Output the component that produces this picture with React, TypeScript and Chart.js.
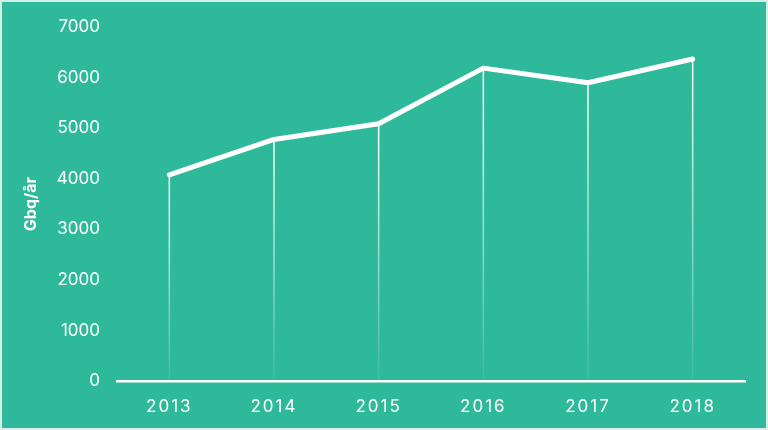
import React, { useEffect, useRef } from "react";
import { Chart, registerables } from "chart.js";

Chart.register(...registerables);

const years = ["2013", "2014", "2015", "2016", "2017", "2018"];
const values = [4080, 4780, 5090, 6190, 5900, 6370];
const yTicks = [0, 1000, 2000, 3000, 4000, 5000, 6000, 7000];
const yTitle = "Gbq/år";

const BG = "#2fb99b";
const FONT = "Inter, 'DejaVu Sans', sans-serif";

const bgPlugin = {
  id: "bgPlugin",
  beforeDraw(chart: any) {
    const { ctx, width, height } = chart;
    ctx.save();
    ctx.fillStyle = BG;
    ctx.fillRect(0, 0, width, height);
    ctx.strokeStyle = "#d6f0e9";
    ctx.lineWidth = 2;
    ctx.strokeRect(1, 1, width - 2, height - 2);
    ctx.restore();
    const xs = chart.scales.x;
    if (xs && !xs.__spaced) {
      const orig = xs.drawLabels;
      xs.drawLabels = function (area: any) {
        const c = this.ctx;
        c.save();
        try {
          (c as any).letterSpacing = "2px";
        } catch (e) {}
        orig.call(this, area);
        c.restore();
      };
      xs.__spaced = true;
    }
  },
};

const dropLines = {
  id: "dropLines",
  beforeDatasetsDraw(chart: any) {
    const { ctx } = chart;
    const yScale = chart.scales.y;
    const meta = chart.getDatasetMeta(0);
    const bottom = yScale.getPixelForValue(0);
    ctx.save();
    meta.data.forEach((pt: any) => {
      const grad = ctx.createLinearGradient(0, pt.y, 0, bottom);
      grad.addColorStop(0, "rgba(255,255,255,1)");
      grad.addColorStop(1, "rgba(255,255,255,0.05)");
      ctx.strokeStyle = grad;
      ctx.lineWidth = 1.5;
      ctx.beginPath();
      ctx.moveTo(pt.x, pt.y);
      ctx.lineTo(pt.x, bottom);
      ctx.stroke();
    });
    ctx.restore();
  },
};

export default function App() {
  const ref = useRef<HTMLCanvasElement | null>(null);
  useEffect(() => {
    document.body.style.margin = "0";
    const chart = new Chart(ref.current as HTMLCanvasElement, {
      type: "line",
      data: {
        labels: years,
        datasets: [
          {
            data: values,
            borderColor: "#ffffff",
            borderWidth: 5,
            borderCapStyle: "round",
            borderJoinStyle: "round",
            pointRadius: 0,
            tension: 0,
            fill: false,
          },
        ],
      },
      options: {
        responsive: false,
        animation: false,
        layout: { padding: { left: 0, right: 23, top: 24, bottom: 0 } },
        plugins: { legend: { display: false }, tooltip: { enabled: false } },
        scales: {
          x: {
            offset: true,
            grid: { display: false, drawTicks: false },
            border: { display: true, color: "#ffffff", width: 2.5 },
            ticks: {
              color: "#ffffff",
              font: { family: FONT, size: 17 },
              padding: 16,
            },
            afterFit(scale: any) {
              scale.height = 49;
            },
          },
          y: {
            min: 0,
            max: 7000,
            afterBuildTicks(scale: any) {
              scale.ticks = yTicks.map((v) => ({ value: v }));
            },
            grid: { display: false, drawTicks: false },
            border: { display: false },
            ticks: {
              color: "#ffffff",
              font: { family: FONT, size: 17 },
              padding: 17,
              callback: (v: any) => String(v),
            },
            title: {
              display: true,
              text: yTitle,
              color: "#ffffff",
              font: { family: FONT, size: 16, weight: "bold" },
              padding: { top: 22, bottom: 0 },
            },
            afterFit(scale: any) {
              scale.width = 117;
            },
          },
        },
      },
      plugins: [bgPlugin, dropLines],
    } as any);
    return () => chart.destroy();
  }, []);
  return (
    <div style={{ width: 768, height: 430 }}>
      <canvas ref={ref} width={768} height={430} style={{ display: "block" }} />
    </div>
  );
}
